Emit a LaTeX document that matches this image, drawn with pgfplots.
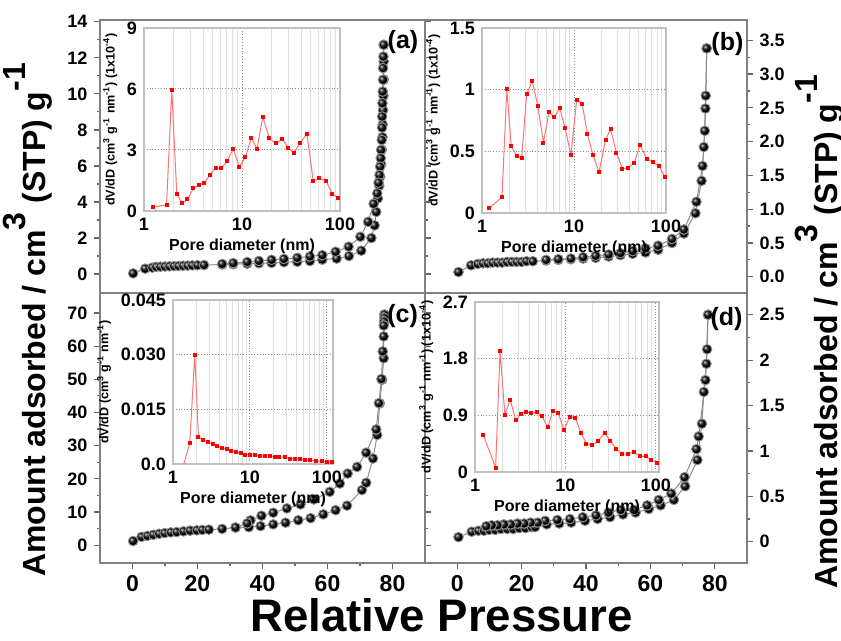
\documentclass[border=0pt]{standalone}
\usepackage{fontspec}
\setmainfont{Liberation Sans}
\usepackage{pgfplots}
\pgfplotsset{compat=1.18}
\pgfplotsset{
  mainax/.style={
    scale only axis, anchor=north west, xmin=-10, xmax=90,
    axis line style={black!50, line width=1pt},
    every tick/.style={black!60, line width=0.6pt},
    tick align=outside, major tick length=2.8pt, minor tick length=1.6pt,
    /pgf/number format/assume math mode=true,
    yticklabel style={font=\bfseries\fontsize{9}{10}\selectfont, text=black},
    xticklabel style={font=\bfseries\fontsize{11.5}{12}\selectfont, text=black, inner sep=1pt, yshift=-2pt},
    xtick={0,20,40,60,80}, minor x tick num=1,
    minor y tick num=1,
    xtick pos=bottom,
  },
  iso/.style={black!45, line width=0.5pt, mark=ball, mark size=2.4pt, mark options={ball color=black}},
  inset/.style={
    scale only axis, anchor=north west, xmin=1, xmax=100,
    axis line style={black!25, line width=0.6pt},
    xtick={1,10,100}, xticklabels={1,10,100},
    minor xtick={2,3,4,5,6,7,8,9,20,30,40,50,60,70,80,90},
    grid=both, yminorgrids=false,
    major grid style={black!45, densely dotted, line width=0.5pt},
    minor grid style={black!12, line width=0.5pt},
    major tick length=0pt, minor tick length=0pt,
    scaled y ticks=false,
    /pgf/number format/assume math mode=true,
    ticklabel style={font=\bfseries\fontsize{9}{10}\selectfont},
    xlabel={Pore diameter (nm)},
    xlabel style={font=\bfseries\fontsize{8}{9}\selectfont, yshift=3pt},
    ylabel style={font=\bfseries\fontsize{6.3}{7}\selectfont, yshift=-2pt},
  },
  pore/.style={red!55, line width=0.5pt, mark=square*, mark size=0.75pt, mark options={red, draw=red}},
}
\begin{document}
\begin{tikzpicture}
\path[use as bounding box] (0,0) rectangle (420.5pt,-320.5pt);

% ---------------- (a) ----------------
\begin{axis}[mainax, at={(50pt,-10pt)}, width=162.5pt, height=136.5pt,
  ymin=-1.05, ymax=14.1, ytick={0,2,...,14}, xtick=\empty, minor xtick=\empty]
\addplot[iso] coordinates {(0.2,0.04)(3.9,0.3)(6.1,0.36)(7.3,0.4)(8.6,0.41)(10,0.42)(11.4,0.43)(12.8,0.44)(14.2,0.45)(15.6,0.46)(17,0.47)(18.4,0.48)(20,0.49)(22,0.5)(27.6,0.53)(31,0.55)(35.3,0.58)(38.9,0.6)(42.8,0.62)(46.6,0.66)(50.7,0.68)(54.6,0.72)(58.4,0.8)(62.8,0.86)(66.6,1.0)(70.4,1.3)(73.5,2.0)(74.5,2.7)(75,3.45)(75.5,4.2)(75.9,4.9)(76.2,5.4)(76.5,6.1)(76.7,6.9)(76.9,7.6)(77,8.3)(77.1,9.1)(77.2,9.9)(77.3,10.8)(77.3,11.8)(77.3,12.72)};
\addplot[iso] coordinates {(77.3,12.72)(77.2,12.07)(77.1,11.43)(77.1,10.78)(77,10.13)(76.9,9.48)(76.8,8.74)(76.8,8.13)(76.7,7.44)(76.5,6.89)(76.4,6.43)(76.2,5.96)(76,5.5)(75.7,5.07)(75.3,4.48)(74.2,3.9)(72.5,2.9)(70.1,2.07)(66.5,1.52)(62.5,1.24)(58.4,1.05)(54.6,0.98)(50.7,0.9)(46.6,0.84)(42.8,0.79)(38.9,0.73)(35.3,0.67)(31,0.61)(27.6,0.56)};
\end{axis}

% ---------------- (b) ----------------
\begin{axis}[mainax, at={(212.5pt,-10pt)}, width=161pt, height=136.5pt,
  ymin=-0.24, ymax=3.8, ytick={0,0.5,...,3.5}, xtick=\empty, minor xtick=\empty,
  ytick pos=right, yticklabel pos=right,
  yticklabel style={/pgf/number format/.cd, fixed, fixed zerofill, precision=1}]
\addplot[iso] coordinates {(0.4,0.07)(4.3,0.17)(6.4,0.19)(8,0.2)(9.5,0.2)(11,0.21)(12.5,0.21)(14,0.21)(15.5,0.22)(17,0.22)(18.5,0.22)(20,0.22)(21.5,0.23)(23.5,0.23)(27.6,0.24)(31.4,0.25)(35.3,0.26)(39.1,0.27)(43,0.28)(47,0.3)(50.7,0.32)(54.5,0.34)(58.5,0.36)(62.4,0.4)(66.7,0.5)(70.4,0.64)(74,0.94)(75.9,1.42)(76.6,1.92)(77.1,2.49)(77.5,3.38)};
\addplot[iso] coordinates {(77.5,3.38)(77.2,2.68)(76.9,2.16)(76.2,1.64)(74.3,1.11)(70.4,0.7)(66.7,0.56)(62.4,0.46)(58.5,0.42)(54.5,0.38)(50.7,0.35)(47,0.33)(43,0.31)(39.1,0.29)(35.3,0.27)(31.4,0.26)(27.6,0.25)};
\end{axis}

% ---------------- (c) ----------------
\begin{axis}[mainax, at={(50pt,-146.5pt)}, width=162.5pt, height=135pt,
  ymin=-5.35, ymax=76, ytick={0,10,...,70}]
\addplot[iso] coordinates {(0.2,1.27)(2.8,2.52)(4.6,2.83)(6.4,3.15)(8.2,3.46)(9.9,3.67)(11.8,3.88)(13.6,3.98)(15.7,4.19)(17.7,4.4)(19.8,4.5)(21.5,4.61)(23.5,4.71)(27.6,4.92)(31.7,5.34)(35.8,5.44)(39.4,5.76)(43.3,6.28)(47.1,6.8)(51,7.53)(54.8,8.16)(58.7,9.31)(62.5,10.57)(66,11.92)(70.6,16.63)(71.9,18.82)(74,26.14)(75.3,33.24)(76.1,42.75)(76.8,49.86)(77.3,56.34)(77.3,62.92)(77.5,67)(77.5,69.5)};
\addplot[iso] coordinates {(77.5,69.5)(77.5,68.5)(77.4,67.4)(77.3,66.2)(77,58.4)(76.6,50.1)(75.8,42.8)(75,34.9)(71.9,27.9)(69.1,23.6)(66.2,21.6)(63.8,18.6)(60.7,16.1)(55.8,13.8)(51.7,12.3)(47.5,11.1)(43.3,9.8)(39.7,8.9)(36.3,7.5)(35.3,6.6)(31.7,5.34)};
\end{axis}

% ---------------- (d) ----------------
\begin{axis}[mainax, at={(212.5pt,-146.5pt)}, width=161pt, height=135pt,
  ymin=-0.235, ymax=2.74, ytick={0,0.5,...,2.5},
  ytick pos=right, yticklabel pos=right]
\addplot[iso] coordinates {(0.4,0.05)(4.5,0.11)(6.6,0.12)(8.3,0.12)(10,0.13)(11.8,0.13)(13.6,0.14)(15.5,0.14)(17.4,0.14)(19.3,0.15)(21.2,0.15)(23.2,0.16)(24.2,0.16)(27.8,0.19)(31.7,0.2)(35.4,0.21)(39.7,0.23)(43.6,0.25)(47.5,0.27)(51.5,0.3)(55.4,0.32)(59.5,0.36)(63.2,0.4)(67.3,0.46)(70.8,0.61)(74.6,0.9)(76,1.3)(76.6,1.65)(77.4,1.96)(77.6,2.12)(77.9,2.5)};
\addplot[iso] coordinates {(77.9,2.5)(77.1,1.78)(75,1.16)(74.3,1.02)(70.6,0.71)(66.5,0.53)(62.6,0.46)(59,0.4)(54.9,0.35)(50.8,0.35)(47,0.32)(43.1,0.29)(39,0.27)(35,0.25)(31.1,0.24)(27.3,0.23)(25,0.21)(22.8,0.21)(20.8,0.2)(18.7,0.2)(16.6,0.19)(14.5,0.19)(12.5,0.18)(10.7,0.18)(9,0.17)};
\end{axis}

% ---------------- insets ----------------
\begin{semilogxaxis}[inset, at={(72pt,-14pt)}, width=98pt, height=91.5pt,
  ymin=0, ymax=9, ytick={0,3,6,9},
  ylabel={dV/dD (cm\textsuperscript{3} g\textsuperscript{-1} nm\textsuperscript{-1}) (1x10\textsuperscript{-4})}]
\addplot[pore] coordinates {(1.24,0.18)(1.70,0.31)(1.92,5.97)(2.16,0.86)(2.43,0.37)(2.77,0.57)(3.19,1.11)(3.61,1.27)(4.12,1.38)(4.71,1.79)(5.39,2.11)(6.16,2.11)(7.03,2.44)(8.15,3.06)(9.39,2.15)(10.8,2.65)(12.5,3.6)(14.2,3.04)(16.3,4.63)(19.0,3.57)(22.2,3.33)(25.8,3.54)(29.6,3.12)(33.8,2.84)(39.0,3.33)(46.0,3.79)(53.4,1.46)(61.6,1.6)(71.8,1.5)(83.6,0.83)(95.5,0.65)};
\end{semilogxaxis}

\begin{semilogxaxis}[inset, at={(241pt,-14pt)}, width=92pt, height=92.5pt,
  ymin=0, ymax=1.5, ytick={0,0.5,1,1.5}, yticklabels={0,0.5,1,1.5},
  ylabel={dV/dD (cm\textsuperscript{3} g\textsuperscript{-1} nm\textsuperscript{-1}) (1x10\textsuperscript{-4})}]
\addplot[pore] coordinates {(1.2,0.04)(1.65,0.13)(1.86,1.005)(2.08,0.54)(2.39,0.46)(2.7,0.446)(3.06,0.965)(3.52,1.07)(4.05,0.865)(4.65,0.57)(5.35,0.82)(6.1,0.775)(7.0,0.85)(7.98,0.69)(9.28,0.47)(10.7,0.92)(12.3,0.88)(14.0,0.64)(16.1,0.47)(18.7,0.33)(22.0,0.59)(25.0,0.68)(28.9,0.49)(33.6,0.36)(38.8,0.365)(45.0,0.405)(52.2,0.55)(61.9,0.44)(72.5,0.41)(83.8,0.38)(97.9,0.29)};
\end{semilogxaxis}

\begin{semilogxaxis}[inset, at={(86.5pt,-150pt)}, width=80pt, height=82pt, xmax=120,
  ymin=0, ymax=0.045, ytick={0,0.015,0.03,0.045}, yticklabels={0.0,0.015,0.030,0.045},
  ylabel={dV/dD (cm\textsuperscript{3} g\textsuperscript{-1} nm\textsuperscript{-1})}]
\addplot[pore] coordinates {(1.3,-0.002)(1.65,0.0057)(1.92,0.030)(2.14,0.0075)(2.47,0.0065)(2.85,0.0061)(3.27,0.0055)(3.77,0.0050)(4.34,0.0043)(4.99,0.0041)(5.74,0.0035)(6.62,0.0032)(7.6,0.0030)(8.75,0.0026)(10.1,0.0025)(11.6,0.0025)(13.4,0.0021)(15.8,0.0023)(18.2,0.0021)(20.9,0.0019)(24.2,0.0019)(28.4,0.0018)(33,0.0015)(38.4,0.0015)(44.6,0.0014)(51.8,0.0012)(60.3,0.0010)(72.2,0.0009)(85.8,0.0007)(99.7,0.0006)(116,0.0005)};
\end{semilogxaxis}

\begin{semilogxaxis}[inset, at={(237.5pt,-151pt)}, width=92pt, height=85pt, xmax=108,
  ymin=0, ymax=2.7, ytick={0,0.9,1.8,2.7}, yticklabels={0,0.9,1.8,2.7},
  ylabel={dV/dD (cm\textsuperscript{3} g\textsuperscript{-1} nm\textsuperscript{-1}) (1x10\textsuperscript{-4})}]
\addplot[pore] coordinates {(1.24,0.58)(1.69,0.07)(1.89,1.92)(2.14,0.91)(2.45,1.15)(2.82,0.82)(3.2,0.92)(3.66,0.96)(4.19,0.93)(4.79,0.95)(5.5,0.89)(6.36,0.71)(7.26,0.97)(8.32,0.94)(9.64,0.66)(11.1,0.88)(12.8,0.86)(14.9,0.62)(17.0,0.45)(19.8,0.43)(23.0,0.49)(27.0,0.62)(31.0,0.5)(36.5,0.37)(42,0.28)(49,0.29)(57,0.32)(66,0.25)(77,0.25)(89,0.19)(103,0.14)};
\end{semilogxaxis}

% ---------------- labels ----------------
\node[font=\bfseries\fontsize{12.5}{14}\selectfont] at (201.5pt,-21pt) {(a)};
\node[font=\bfseries\fontsize{12.5}{14}\selectfont] at (363.7pt,-22pt) {(b)};
\node[font=\bfseries\fontsize{12.5}{14}\selectfont] at (201.3pt,-158pt) {(c)};
\node[font=\bfseries\fontsize{12.5}{14}\selectfont] at (363.3pt,-159.5pt) {(d)};

\node[rotate=90, anchor=base, inner sep=0pt, font=\bfseries\fontsize{16}{18}\selectfont] at (22.5pt,-160pt)
  {Amount adsorbed / cm\raisebox{0.6em}{3} (STP) g\raisebox{0.6em}{-1}};
\node[rotate=90, anchor=base, inner sep=0pt, font=\bfseries\fontsize{16}{18}\selectfont] at (418.5pt,-166pt)
  {Amount adsorbed / cm\raisebox{0.6em}{3} (STP) g\raisebox{0.6em}{-1}};
\node[anchor=base, inner sep=0pt, font=\bfseries\fontsize{22.8}{25}\selectfont] at (220.75pt,-316pt) {Relative Pressure};
\end{tikzpicture}
\end{document}
